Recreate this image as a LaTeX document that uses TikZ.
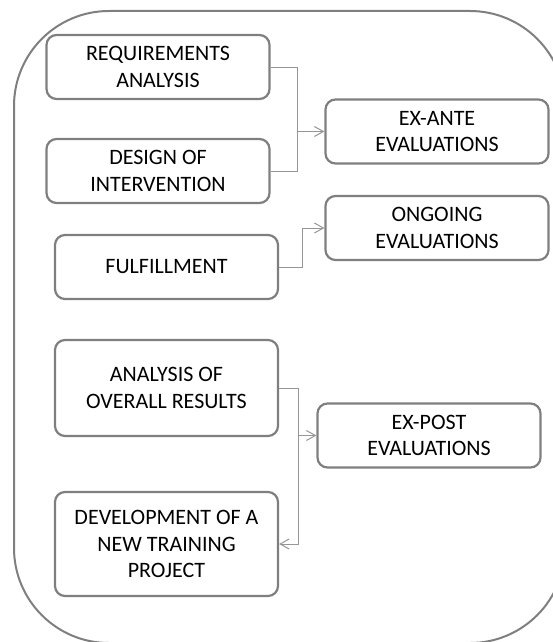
\documentclass[tikz,border=0pt]{standalone}
\usepackage{fontspec}
\setmainfont{Carlito}
\usetikzlibrary{arrows.meta}
\definecolor{boxgray}{RGB}{127,127,127}
\definecolor{linkgray}{RGB}{150,150,150}
\tikzset{
	stage/.style={draw=boxgray, line width=2.2pt, rounded corners=10pt,
		minimum width=223pt, minimum height=64pt, inner sep=0pt,
		align=center, font=\fontsize{22}{26.7}\selectfont},
	link/.style={draw=linkgray, line width=1pt},
	>={Straight Barb[length=9pt,width=10pt]}
}

\begin{document}
\begin{tikzpicture}[x=1pt,y=-1pt]
	\useasboundingbox (0,0) rectangle (553,642);
	\clip (0,0) rectangle (553,642);
	% frame
	\draw[boxgray, line width=2pt, rounded corners=95pt] (14,11) rectangle (565,643);
	% project stages
	\node[stage] (req) at (158,67) {REQUIREMENTS\\ANALYSIS};
	\node[stage] (design) at (158,171) {DESIGN OF\\INTERVENTION};
	\node[stage] (fulfil) at (166.5,267) {FULFILLMENT};
	\node[stage, minimum height=96pt] (overall) at (166.5,388) {ANALYSIS OF\\OVERALL RESULTS};
	\node[stage, minimum height=104pt] (newproj) at (166.5,544) {DEVELOPMENT OF A\\NEW TRAINING\\PROJECT};
	% evaluations
	\node[stage] (exante) at (437,131.5) {EX-ANTE\\EVALUATIONS};
	\node[stage] (ongoing) at (437,228) {ONGOING\\EVALUATIONS};
	\node[stage] (expost) at (429,435.5) {EX-POST\\EVALUATIONS};
	% links
	\coordinate (exj) at (297.5,131.5);
	\draw[link] (req.east) -| (exj) |- (design.east);
	\draw[link,->] (exj) -- (exante.west);
	\draw[link,->] (fulfil.east) -- ++(23,0) |- (ongoing.west);
	\coordinate (postj) at (298,435.5);
	\draw[link] (overall.east) -| (postj);
	\draw[link,->] (postj) |- (newproj.east);
	\draw[link,->] (postj) -- (expost.west);
\end{tikzpicture}
\end{document}
